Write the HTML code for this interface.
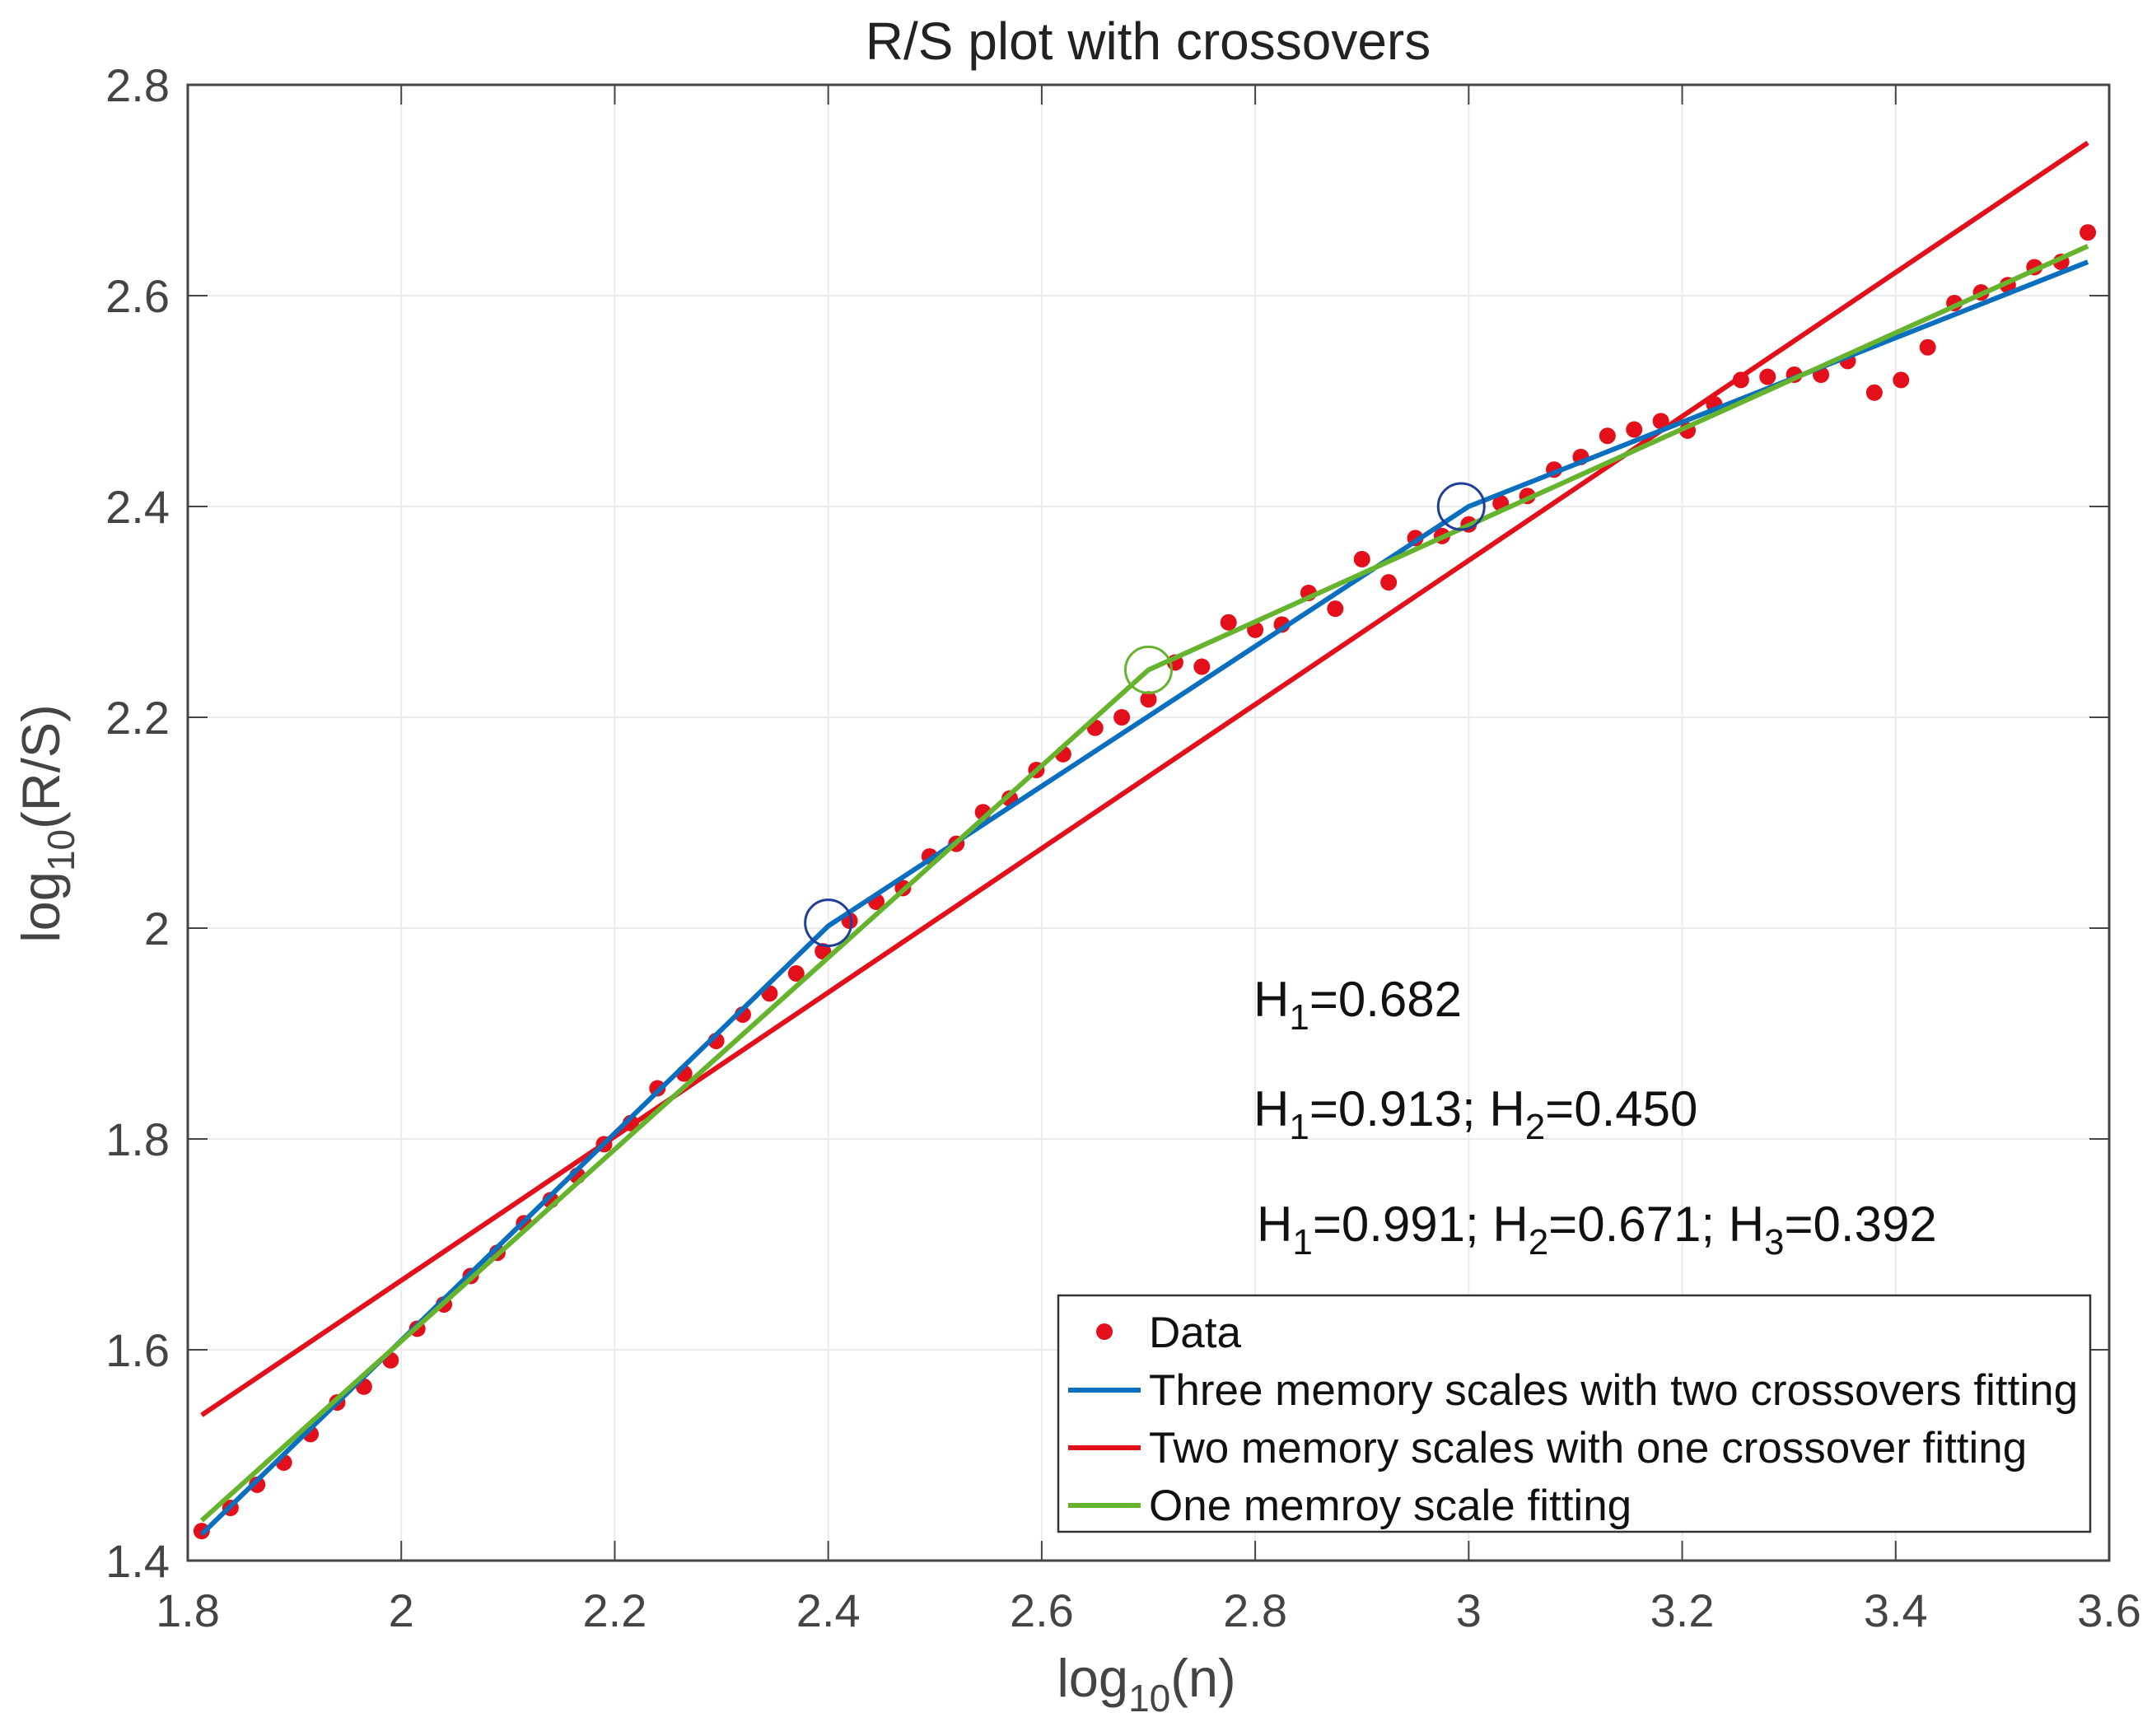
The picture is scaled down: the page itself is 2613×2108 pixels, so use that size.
<!DOCTYPE html>
<html><head><meta charset="utf-8"><style>
body{margin:0;background:#fff}
svg{display:block;font-family:"Liberation Sans",sans-serif}
</style></head><body>
<svg id="chart" width="2613" height="2108" viewBox="0 0 2613 2108" xmlns="http://www.w3.org/2000/svg">
<rect width="2613" height="2108" fill="#fff"/>
<g id="grid"></g><g id="series"></g><g id="axes"></g>
<text x="1394" y="72" font-size="64" fill="#222" text-anchor="middle">R/S plot with crossovers</text>
<text x="1392" y="2060" font-size="65" fill="#444" text-anchor="middle">log<tspan font-size="46" dy="18">10</tspan><tspan dy="-18">(n)</tspan></text>
<text transform="translate(72,1000) rotate(-90)" font-size="65" fill="#444" text-anchor="middle">log<tspan font-size="46" dy="18">10</tspan><tspan dy="-18">(R/S)</tspan></text>
<g font-size="60" fill="#111">
<text x="1522" y="1234">H<tspan font-size="44" dy="16">1</tspan><tspan dy="-16">=0.682</tspan></text>
<text x="1522" y="1367">H<tspan font-size="44" dy="16">1</tspan><tspan dy="-16">=0.913; H</tspan><tspan font-size="44" dy="16">2</tspan><tspan dy="-16">=0.450</tspan></text>
<text x="1526" y="1507">H<tspan font-size="44" dy="16">1</tspan><tspan dy="-16">=0.991; H</tspan><tspan font-size="44" dy="16">2</tspan><tspan dy="-16">=0.671; H</tspan><tspan font-size="44" dy="16">3</tspan><tspan dy="-16">=0.392</tspan></text>
</g>
<g>
<rect x="1285" y="1573" width="1253" height="287" fill="#fff" stroke="#333" stroke-width="2.5"/>
<circle cx="1341" cy="1617" r="10" fill="#e3101c"/>
<text x="1395" y="1636" font-size="53" fill="#111">Data</text>
<line x1="1297" y1="1688" x2="1385" y2="1688" stroke="#0b6fbf" stroke-width="6"/>
<text x="1395" y="1706" font-size="53" fill="#111">Three memory scales with two crossovers fitting</text>
<line x1="1297" y1="1758" x2="1385" y2="1758" stroke="#e3101c" stroke-width="6"/>
<text x="1395" y="1776" font-size="53" fill="#111">Two memory scales with one crossover fitting</text>
<line x1="1297" y1="1828" x2="1385" y2="1828" stroke="#66b32e" stroke-width="6"/>
<text x="1395" y="1846" font-size="53" fill="#111">One memroy scale fitting</text>
</g>
</svg>
<script>
const xTicks=[1.8,2,2.2,2.4,2.6,2.8,3,3.2,3.4,3.6];
const xTickLabels=["1.8","2","2.2","2.4","2.6","2.8","3","3.2","3.4","3.6"];
const yTicks=[1.4,1.6,1.8,2,2.2,2.4,2.6,2.8];
const yTickLabels=["1.4","1.6","1.8","2","2.2","2.4","2.6","2.8"];
const dataX=[1.813,1.84,1.865,1.89,1.915,1.94,1.965,1.99,2.015,2.04,2.065,2.09,2.115,2.14,2.165,2.19,2.215,2.24,2.265,2.295,2.32,2.345,2.37,2.395,2.42,2.445,2.47,2.495,2.52,2.545,2.57,2.595,2.62,2.65,2.675,2.7,2.725,2.75,2.775,2.8,2.825,2.85,2.875,2.9,2.925,2.95,2.975,3.0,3.03,3.055,3.08,3.105,3.13,3.155,3.18,3.205,3.23,3.255,3.28,3.305,3.33,3.355,3.38,3.405,3.43,3.455,3.48,3.505,3.53,3.555,3.58];
const dataY=[1.428,1.45,1.472,1.493,1.52,1.55,1.565,1.59,1.62,1.643,1.67,1.692,1.72,1.742,1.765,1.795,1.815,1.848,1.862,1.893,1.918,1.938,1.957,1.978,2.007,2.025,2.038,2.068,2.08,2.11,2.123,2.15,2.165,2.19,2.2,2.217,2.252,2.248,2.29,2.283,2.288,2.318,2.303,2.35,2.328,2.37,2.372,2.383,2.403,2.41,2.435,2.447,2.467,2.473,2.481,2.472,2.497,2.52,2.523,2.525,2.525,2.538,2.508,2.52,2.551,2.593,2.603,2.61,2.627,2.632,2.66];
const blueX=[1.813,2.4,3.0,3.58];
const blueY=[1.425,2.002,2.4,2.632];
const redX=[1.813,3.58];
const redY=[1.538,2.745];
const greenX=[1.813,2.7,3.58];
const greenY=[1.438,2.245,2.647];
const blueCrossX=[2.4,2.993];
const blueCrossY=[2.005,2.4];
const greenCrossX=[2.7];
const greenCrossY=[2.245];

const L=228,R=2561,T=103,B=1895;
const xs=v=>L+(v-1.8)/(3.6-1.8)*(R-L);
const ys=v=>B-(v-1.4)/(2.8-1.4)*(B-T);
const NS="http://www.w3.org/2000/svg";
function mk(tag,parent,attrs){const e=document.createElementNS(NS,tag);for(const k in attrs)e.setAttribute(k,attrs[k]);parent.appendChild(e);return e;}
const grid=document.getElementById('grid'),ser=document.getElementById('series'),ax=document.getElementById('axes');
xTicks.forEach((t,i)=>{
  const g=mk('line',grid,{x1:xs(t),x2:xs(t),y1:T,y2:B,stroke:'#ebebeb','stroke-width':2});
  
  
  const tk=mk('line',ax,{x1:xs(t),x2:xs(t),y1:B,y2:B-24,stroke:'#444','stroke-width':2});
  
  
  const tk2=mk('line',ax,{x1:xs(t),x2:xs(t),y1:T,y2:T+24,stroke:'#444','stroke-width':2});
  
  
  const lb=mk('text',ax,{x:xs(t),y:B+80,'font-size':56,fill:'#444','text-anchor':'middle'});
  lb.textContent=xTickLabels[i];
  
  
});
yTicks.forEach((t,i)=>{
  const g=mk('line',grid,{x1:L,x2:R,y1:ys(t),y2:ys(t),stroke:'#ebebeb','stroke-width':2});
  
  
  const tk=mk('line',ax,{x1:L,x2:L+24,y1:ys(t),y2:ys(t),stroke:'#444','stroke-width':2});
  
  
  const tk2=mk('line',ax,{x1:R,x2:R-24,y1:ys(t),y2:ys(t),stroke:'#444','stroke-width':2});
  
  
  const lb=mk('text',ax,{x:L-22,y:ys(t)+20,'font-size':56,fill:'#444','text-anchor':'end'});
  lb.textContent=yTickLabels[i];
  
  
});
const frame=mk('rect',ax,{x:L,y:T,width:R-L,height:B-T,fill:'none',stroke:'#444','stroke-width':3});


dataX.forEach((x,i)=>{
  const c=mk('circle',ser,{cx:xs(x),cy:ys(dataY[i]),r:10,fill:'#e3101c'});
  
  
});
function line(X,Y,color,name){
  const p=mk('polyline',ser,{points:X.map((x,i)=>xs(x)+','+ys(Y[i])).join(' '),fill:'none',stroke:color,'stroke-width':6,'stroke-linejoin':'round'});
  
  
}
line(redX,redY,'#e3101c','two-scale-fit-line');
line(blueX,blueY,'#0b6fbf','three-scale-fit-line');
line(greenX,greenY,'#66b32e','one-scale-fit-line');
blueCrossX.forEach((x,i)=>{
  const c=mk('circle',ser,{cx:xs(x),cy:ys(blueCrossY[i]),r:28,fill:'none',stroke:'#1f3f9a','stroke-width':3});
  
  
});
greenCrossX.forEach((x,i)=>{
  const c=mk('circle',ser,{cx:xs(x),cy:ys(greenCrossY[i]),r:28,fill:'none',stroke:'#66b32e','stroke-width':3});
  
  
});
</script>
</body></html>
